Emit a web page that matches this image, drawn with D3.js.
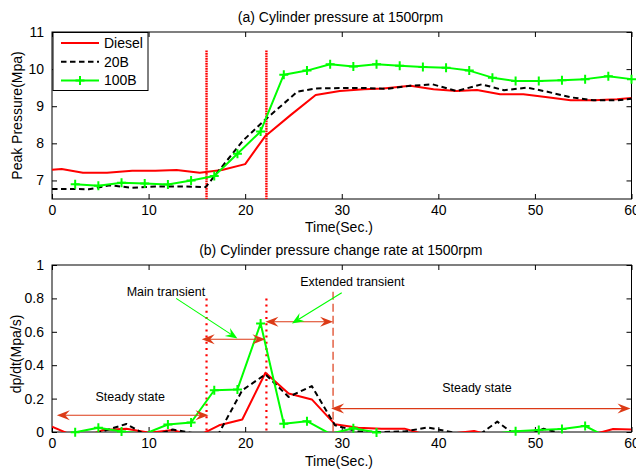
<!DOCTYPE html>
<html><head><meta charset="utf-8">
<script src="https://cdn.jsdelivr.net/npm/d3@7"></script>
<style>
body{margin:0;background:#fff;}
text{font-family:"Liberation Sans",Arial,sans-serif;fill:#000;}
</style></head>
<body><svg id="c" width="636" height="473"></svg>
<script>
// ---------- data ----------
const xTicks = [0,10,20,30,40,50,60];
const yTicksTop = [7,8,9,10,11];
const yTicksBot = [0,0.2,0.4,0.6,0.8,1];
const seriesNames = ["Diesel","20B","100B"];

// (a) peak pressure
const dieselT = [0,1.0,3.2,5.7,8.3,10.7,12.9,15.3,17.6,20.0,22.1,24.7,27.3,29.8,32.3,34.3,37.1,39.5,41.9,44.0,46.4,48.8,51.3,53.7,56.1,58.5,60];
const dieselP = [7.29,7.31,7.21,7.21,7.26,7.26,7.28,7.21,7.28,7.44,8.2,8.76,9.3,9.41,9.46,9.48,9.55,9.46,9.41,9.44,9.32,9.32,9.24,9.16,9.16,9.19,9.22];
const b20T = [0,2.5,3.8,6.0,8.3,10.7,13.1,15.9,19.8,22.0,25.4,27.3,29.8,32.3,34.7,37.1,39.4,41.9,44.5,46.8,49.2,51.3,53.7,56.1,58.5,60];
const b20P = [6.77,6.77,6.76,6.87,6.80,6.84,6.84,6.82,8.08,8.62,9.39,9.48,9.49,9.49,9.47,9.55,9.59,9.41,9.59,9.43,9.50,9.39,9.24,9.16,9.16,9.2];
const b100T = [2.4,4.8,7.2,9.6,12.0,14.4,16.8,19.2,21.6,24.0,26.4,28.8,31.2,33.6,36.0,38.4,40.8,43.2,45.6,48.0,50.4,52.8,55.2,57.6,60.0];
const b100P = [6.9,6.86,6.94,6.92,6.89,7.0,7.12,7.72,8.32,9.85,9.96,10.13,10.07,10.13,10.09,10.06,10.04,9.96,9.77,9.68,9.68,9.70,9.73,9.81,9.73];

// (b) pressure change rate
const rateT = [0,2.9,5.3,7.7,10.1,12.5,14.9,17.3,19.7,22.1,24.5,26.9,29.3,31.7,34.1,36.5,38.9,41.3,43.7,46.1,48.5,50.9,53.3,55.7,58.1,60];
const dieselR = [0.032,-0.04,0.012,0.02,-0.005,0.012,-0.03,0.04,0.075,0.355,0.23,0.195,0.046,0.025,0.02,0.02,-0.02,-0.01,0.006,-0.03,-0.02,-0.02,-0.03,-0.02,0.018,0.015];
const b20R = [-0.06,-0.04,0.005,0.048,-0.03,0.015,-0.01,-0.005,0.25,0.345,0.21,0.275,0.04,0.003,0.0,0.003,0.027,0.0,-0.04,0.062,-0.04,0.02,-0.02,-0.05,-0.04,-0.03];
const b100R = [-0.002,0.026,0.003,-0.011,0.045,0.057,0.25,0.255,0.65,0.05,0.065,-0.011,0.022,-0.003,-0.05,-0.05,-0.05,-0.05,-0.012,0.005,0.012,0.018,0.036,-0.035,-0.04];

// phase markers
const phaseLines = [16,22.2];
const extendedEnd = 29.1;
const doubleArrows = [[0.5,16.2,0.1],[15.5,22.1,0.555],[22.1,29.1,0.66],[28.9,59.9,0.14]];
const pointerArrows = [[12.85,0.80,19.2,0.56],[30.0,0.834,24.84,0.65]];
const phaseLabels = [["Steady state",8.1,0.215],["Main transient",11.8,0.84],["Extended transient",31.1,0.9],["Steady state",44.0,0.268]];

// ---------- drawing ----------
const svg = d3.select("#c");
const L = 52, R = 631.5;
const RED = "#ff0000", GREEN = "#00ff00", ARW = "#dc3a16";
const x = d3.scaleLinear().domain([0,60]).range([L,R]);
const yT = d3.scaleLinear().domain([6.5,11]).range([199,32]);
const yB = d3.scaleLinear().domain([0,1]).range([432,265]);

function frame(y, yTicks, fmt, id){
  const top = y.range()[1], bot = y.range()[0];
  svg.append("clipPath").attr("id",id).append("rect")
    .attr("x",L).attr("y",top).attr("width",R-L).attr("height",bot-top);
  const g = svg.append("g");
  const ax = g.append("g").attr("transform",`translate(0,${bot})`)
    .call(d3.axisBottom(x).tickValues(xTicks).tickSize(-5).tickPadding(6).tickFormat(d3.format("d")));
  const axT = g.append("g").attr("transform",`translate(0,${top})`)
    .call(d3.axisTop(x).tickValues(xTicks).tickSize(-5).tickFormat(""));
  const ay = g.append("g").attr("transform",`translate(${L},0)`)
    .call(d3.axisLeft(y).tickValues(yTicks).tickSize(-5).tickPadding(8).tickFormat(fmt));
  const ayR = g.append("g").attr("transform",`translate(${R},0)`)
    .call(d3.axisRight(y).tickValues(yTicks).tickSize(-5).tickFormat(""));
  [ax,axT,ay,ayR].forEach(a=>{
    a.select(".domain").remove();
    a.selectAll("line").attr("stroke","#000");
    a.selectAll("text").attr("font-size",14).attr("font-family","Liberation Sans, Arial, sans-serif").attr("fill","#000");
  });
  g.append("rect").attr("x",L).attr("y",top).attr("width",R-L).attr("height",bot-top)
    .attr("fill","none").attr("stroke","#000").attr("stroke-width",1);
  return g;
}

function series(y, T, V, color, dash, clip){
  const line = d3.line().x((d,i)=>x(T[i])).y(d=>y(d));
  svg.append("path").datum(V).attr("d",line).attr("clip-path",`url(#${clip})`)
    .attr("fill","none").attr("stroke",color).attr("stroke-width",2)
    .attr("stroke-dasharray",dash||null).attr("stroke-linejoin","round");
}
function plusMarks(y, T, V){
  const top = y.range()[1], bot = y.range()[0];
  const g = svg.append("g");
  V.forEach((v,i)=>{
    const px = x(T[i]), py = y(v);
    if(py < top-1 || py > bot+1) return;
    g.append("path").attr("d",`M${px-4.5},${py}H${px+4.5}M${px},${py-4.5}V${py+4.5}`)
      .attr("stroke",GREEN).attr("stroke-width",2);
  });
}

// ---- (a) ----
frame(yT, yTicksTop, d3.format("d"), "clipA");
phaseLines.forEach(t=>{
  svg.append("line").attr("x1",x(t)).attr("x2",x(t)).attr("y1",yT(10.5)).attr("y2",yT(6.5))
    .attr("stroke",RED).attr("stroke-width",2.4).attr("stroke-dasharray","1.6,0.9");
});
series(yT, dieselT, dieselP, RED, null, "clipA");
series(yT, b20T, b20P, "#000", "5.5,3.5", "clipA");
series(yT, b100T, b100P, GREEN, null, "clipA");
plusMarks(yT, b100T, b100P);

svg.append("text").attr("x",340.5).attr("y",21.5).attr("text-anchor","middle").attr("font-size",14)
  .text("(a) Cylinder pressure at 1500rpm");
svg.append("text").attr("x",339).attr("y",232).attr("text-anchor","middle").attr("font-size",14)
  .text("Time(Sec.)");
svg.append("text").attr("transform","translate(22,115.5) rotate(-90)").attr("text-anchor","middle").attr("font-size",14)
  .text("Peak Pressure(Mpa)");

// legend
const lg = svg.append("g");
lg.append("rect").attr("x",53).attr("y",32.5).attr("width",95).attr("height",58)
  .attr("fill","#fff").attr("stroke","#000").attr("stroke-width",1);
const legStyles = [[RED,null,false],["#000","5.5,3.5",false],[GREEN,null,true]];
seriesNames.forEach((n,i)=>{
  const ly = 43 + i*18.7;
  lg.append("line").attr("x1",61).attr("x2",99).attr("y1",ly).attr("y2",ly)
    .attr("stroke",legStyles[i][0]).attr("stroke-width",2).attr("stroke-dasharray",legStyles[i][1]);
  if(legStyles[i][2]) lg.append("path").attr("d",`M75.5,${ly}H84.5M80,${ly-4.5}V${ly+4.5}`)
    .attr("stroke",GREEN).attr("stroke-width",2);
  lg.append("text").attr("x",104).attr("y",ly+5).attr("font-size",14).text(n);
});

// ---- (b) ----
frame(yB, yTicksBot, d=>d===0||d===1?String(d):d3.format(".1f")(d), "clipB");
phaseLines.forEach(t=>{
  svg.append("line").attr("x1",x(t)).attr("x2",x(t)).attr("y1",yB(0.8)).attr("y2",yB(0))
    .attr("stroke",RED).attr("stroke-width",2.2).attr("stroke-dasharray","2,4.2");
});
svg.append("line").attr("x1",x(extendedEnd)).attr("x2",x(extendedEnd)).attr("y1",yB(0.84)).attr("y2",yB(0))
  .attr("stroke",ARW).attr("stroke-width",1.2).attr("stroke-dasharray","8,4");

series(yB, rateT, dieselR, RED, null, "clipB");
series(yB, rateT, b20R, "#000", "5.5,3.5", "clipB");
series(yB, b100T, b100R, GREEN, null, "clipB");
plusMarks(yB, b100T, b100R);

function head(px, py, ang, len, wid, color){
  const pts = [[0,0],[-len,-wid],[-len*0.65,0],[-len,wid]];
  const c = Math.cos(ang), s = Math.sin(ang);
  const p = pts.map(([a,b])=>[px + a*c - b*s, py + a*s + b*c]);
  svg.append("path").attr("d","M"+p.map(q=>q.join(",")).join("L")+"Z").attr("fill",color).attr("stroke","none");
}
doubleArrows.forEach(([a,b,v])=>{
  const x1 = x(a), x2 = x(b), py = yB(v);
  svg.append("line").attr("x1",x1+6).attr("x2",x2-6).attr("y1",py).attr("y2",py)
    .attr("stroke",ARW).attr("stroke-width",1.1);
  head(x1, py, Math.PI, 13, 5, ARW);
  head(x2, py, 0, 13, 5, ARW);
});
pointerArrows.forEach(([a,b,c,d])=>{
  const x1 = x(a), y1 = yB(b), x2 = x(c), y2 = yB(d);
  const ang = Math.atan2(y2-y1, x2-x1);
  svg.append("line").attr("x1",x1).attr("y1",y1).attr("x2",x2-8*Math.cos(ang)).attr("y2",y2-8*Math.sin(ang))
    .attr("stroke",GREEN).attr("stroke-width",1.1);
  head(x2, y2, ang, 12, 4.8, GREEN);
});
phaseLabels.forEach(([t,a,b])=>{
  svg.append("text").attr("x",x(a)).attr("y",yB(b)).attr("dy","0.36em").attr("text-anchor","middle")
    .attr("font-size",12.5).attr("fill","#222").text(t);
});

svg.append("text").attr("x",340.8).attr("y",255).attr("text-anchor","middle").attr("font-size",14)
  .text("(b) Cylinder pressure change rate at 1500rpm");
svg.append("text").attr("x",339).attr("y",466).attr("text-anchor","middle").attr("font-size",14)
  .text("Time(Sec.)");
svg.append("text").attr("transform","translate(21,354) rotate(-90)").attr("text-anchor","middle").attr("font-size",14)
  .text("dp/dt(Mpa/s)");
</script></body></html>
